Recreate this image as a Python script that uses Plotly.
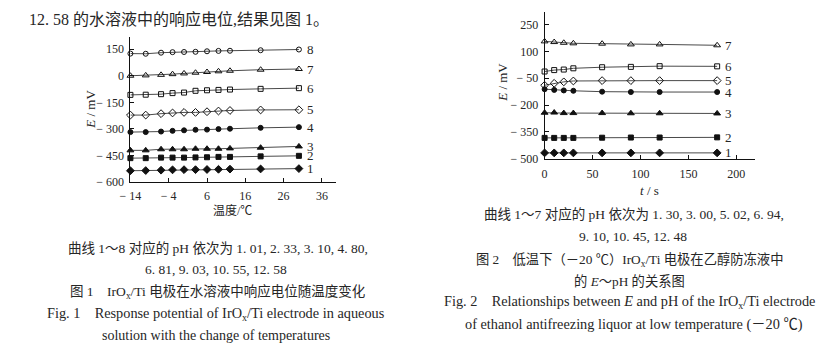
import plotly.graph_objects as go

W, H = 838, 358

# ---------------- Figure 1 data: E (mV) vs temperature (°C) ----------------
temps = [-14, -10, -6, -3, 0, 3, 6, 9, 12, 20, 30]
f1_c1 = [-536, -535, -533, -531, -530, -530, -529, -528, -527, -526, -524]
f1_c2 = [-465, -465, -462, -462, -462, -461, -460, -458, -458, -455, -452]
f1_c3 = [-421, -421, -415, -415, -415, -412, -412, -412, -410, -406, -399]
f1_c4 = [-318, -318, -315, -311, -308, -305, -304, -301, -299, -294, -290]
f1_c5 = [-222, -222, -214, -210, -207, -207, -203, -199, -196, -193, -192]
f1_c6 = [-108, -107, -104, -98, -95, -85, -82, -80, -78, -74, -70]
f1_c7 = [0, 2, 5, 9, 13, 17, 21, 25, 28, 34, 38]
f1_c8 = [125, 124, 130, 133, 134, 135, 138, 140, 141, 144, 148]
f1_labels = ["1", "2", "3", "4", "5", "6", "7", "8"]
f1_xticks = [-14, -4, 6, 16, 26, 36]
f1_xticktext = ["− 14", "− 4", "6", "16", "26", "36"]
f1_yticks = [150, 0, -150, -300, -450, -600]
f1_yticktext = ["150", "0", "− 150", "− 300", "− 450", "− 600"]

# ---------------- Figure 2 data: E (mV) vs time (s) ----------------
times = [0, 10, 20, 30, 60, 90, 120, 180]
f2_c1 = [-468, -468, -468, -468, -468, -468, -468, -468]
f2_c2 = [-384, -384, -384, -384, -383, -382, -382, -381]
f2_c3 = [-243, -242, -245, -245, -245, -246, -246, -247]
f2_c4 = [-111, -115, -118, -120, -125, -127, -127, -127]
f2_c5 = [-89, -78, -70, -65, -63, -63, -63, -63]
f2_c6 = [-12, -4, -1, 6, 12, 14, 18, 17]
f2_c7 = [157, 153, 149, 146, 144, 140, 140, 135]
f2_labels = ["1", "2", "3", "4", "5", "6", "7"]
f2_xticks = [0, 50, 100, 150, 200]
f2_xticktext = ["0", "50", "100", "150", "200"]
f2_yticks = [250, 100, -50, -200, -350, -500]
f2_yticktext = ["250", "100", "− 50", "− 200", "− 350", "− 500"]

# ---------------- styling ----------------
INK = "#262626"
LINE = "#4a4a4a"
SERIF = "Liberation Serif, 'Times New Roman', 'Noto Sans CJK SC', serif"
MIX = "Liberation Serif, 'Noto Sans CJK SC', serif"

f1_symbols = ["diamond", "square", "triangle-up", "circle",
              "diamond-open", "square-open", "triangle-up-open", "circle-open"]
f1_sizes = [6, 5, 6, 5, 6, 5, 6, 5]
f2_symbols = ["diamond", "square", "triangle-up", "circle",
              "diamond-open", "square-open", "triangle-up-open"]
f2_sizes = [6, 5, 6, 5, 6, 5, 6]


def px(x):
    return x / W


def py(y):
    return 1 - y / H


fig = go.Figure()

f1_curves = [f1_c1, f1_c2, f1_c3, f1_c4, f1_c5, f1_c6, f1_c7, f1_c8]
for vals, sym, sz in zip(f1_curves, f1_symbols, f1_sizes):
    fig.add_trace(go.Scatter(
        x=temps, y=vals, mode="lines+markers", xaxis="x", yaxis="y",
        line=dict(color=LINE, width=1),
        marker=dict(symbol=sym, size=sz, color="#111111",
                    line=dict(color="#111111", width=1)),
        showlegend=False, cliponaxis=False))

f2_curves = [f2_c1, f2_c2, f2_c3, f2_c4, f2_c5, f2_c6, f2_c7]
for vals, sym, sz in zip(f2_curves, f2_symbols, f2_sizes):
    fig.add_trace(go.Scatter(
        x=times, y=vals, mode="lines+markers", xaxis="x2", yaxis="y2",
        line=dict(color=LINE, width=1),
        marker=dict(symbol=sym, size=sz, color="#111111",
                    line=dict(color="#111111", width=1)),
        showlegend=False, cliponaxis=False))

annotations = []
# curve number labels
for vals, lab in zip(f1_curves, f1_labels):
    annotations.append(dict(x=temps[-1], y=vals[-1], xref="x", yref="y",
                            text=lab, showarrow=False, xanchor="left",
                            yanchor="middle", xshift=6,
                            font=dict(family=SERIF, size=13, color=INK)))
for vals, lab in zip(f2_curves, f2_labels):
    annotations.append(dict(x=times[-1], y=vals[-1], xref="x2", yref="y2",
                            text=lab, showarrow=False, xanchor="left",
                            yanchor="middle", xshift=6,
                            font=dict(family=SERIF, size=13, color=INK)))


def txt(x, y, s, size, anchor="center", angle=0):
    annotations.append(dict(x=px(x), y=py(y), xref="paper", yref="paper",
                            text=s, showarrow=False, xanchor=anchor,
                            yanchor="middle", textangle=angle,
                            font=dict(family=MIX, size=size, color=INK)))


# axis titles
txt(81, 111, "<i>E</i> / mV", 13, angle=-90)
txt(224, 215, "温度/℃", 12)
txt(498, 84, "<i>E</i> / mV", 13, angle=-90)
txt(647, 194, "<i>t</i> / s", 13)

# top body text
txt(16, 19, "12. 58 的水溶液中的响应电位,结果见图 1。", 16, anchor="left")

# Figure 1 captions
txt(210, 253, "曲线 1～8 对应的 pH 依次为 1. 01, 2. 33, 3. 10, 4. 80,", 13.5)
txt(208, 275, "6. 81, 9. 03, 10. 55, 12. 58", 13.5)
txt(209, 298, "图 1　IrO<sub>x</sub>/Ti 电极在水溶液中响应电位随温度变化", 13.5)
txt(208, 320, "Fig. 1　Response potential of IrO<sub>x</sub>/Ti electrode in aqueous", 14.3)
txt(208, 342, "solution with the change of temperatures", 14)

# Figure 2 captions
txt(631, 218, "曲线 1～7 对应的 pH 依次为 1. 30, 3. 00, 5. 02, 6. 94,", 13.5)
txt(630, 241, "9. 10, 10. 45, 12. 48", 13.5)
txt(627, 265, "图 2　低温下（－20 ℃）IrO<sub>x</sub>/Ti 电极在乙醇防冻液中", 13.3)
txt(627, 287, "的 <i>E</i>～pH 的关系图", 13.3)
txt(627, 308, "Fig. 2　Relationships between <i>E</i> and pH of the IrO<sub>x</sub>/Ti electrode", 14.3)
txt(631, 331, "of ethanol antifreezing liquor at low temperature (－20 ℃)", 14.3)

axis_common = dict(showline=True, linecolor="#111111", linewidth=1,
                   ticks="inside", ticklen=4, tickcolor="#111111", tickwidth=1,
                   showgrid=False, zeroline=False, mirror=False,
                   tickfont=dict(family=SERIF, size=12, color=INK),
                   tickmode="array", fixedrange=True)

fig.update_layout(
    width=W, height=H,
    margin=dict(l=0, r=0, t=0, b=0),
    paper_bgcolor="white", plot_bgcolor="white",
    showlegend=False,
    xaxis=dict(domain=[px(121), px(329)], range=[-14, 39.6], anchor="y",
               tickvals=f1_xticks, ticktext=f1_xticktext,
               ticklabelstandoff=3, **axis_common),
    yaxis=dict(domain=[py(185.7), py(37.3)], range=[-600, 221], anchor="x",
               tickvals=f1_yticks, ticktext=f1_yticktext,
               ticklabelstandoff=3, **axis_common),
    xaxis2=dict(domain=[px(540.7), px(754)], range=[0, 219.6], anchor="y2",
                tickvals=f2_xticks, ticktext=f2_xticktext,
                ticklabelstandoff=3, **axis_common),
    yaxis2=dict(domain=[py(162.3), py(12.7)], range=[-503, 319], anchor="x2",
                tickvals=f2_yticks, ticktext=f2_yticktext,
                ticklabelstandoff=3, **axis_common),
    annotations=annotations,
)

fig.write_html("out.html",
               config={"displayModeBar": False, "staticPlot": True},
               post_script="document.body.style.margin='0';"
                           "document.body.style.overflow='hidden';")
